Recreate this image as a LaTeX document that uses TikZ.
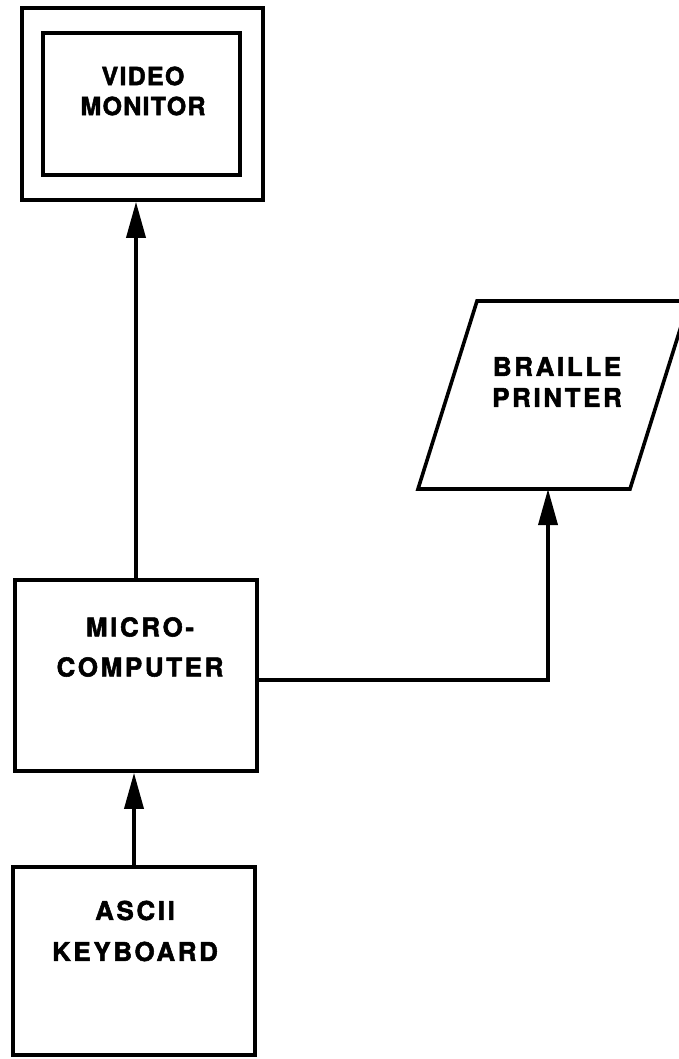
\documentclass[tikz,border=0pt]{standalone}
\usepackage{fontspec}
\usetikzlibrary{arrows.meta}
\newfontfamily\lblfont[LetterSpace=10,BoldFeatures={FakeBold=2}]{TeX Gyre Heros}
\newfontfamily\monfont[LetterSpace=5,BoldFeatures={FakeBold=2}]{TeX Gyre Heros}
\begin{document}
\begin{tikzpicture}[x=1pt,y=-1pt,
  box/.style={draw,line width=3.6pt,inner sep=0pt},
  lbl/.style={font=\lblfont\bfseries\fontsize{26}{30}\selectfont,align=center,inner sep=0pt},
  arr/.style={line width=3.6pt,-{Triangle[length=36pt,width=19pt]}},
  wire/.style={line width=3.6pt}]
\useasboundingbox (0,0) rectangle (678,1059);
% Video monitor
\node[box,minimum width=241pt,minimum height=192pt] (mon) at (142.5,104) {};
\node[box,minimum width=197pt,minimum height=142pt] (scr) at (141.5,104) {};
\node[lbl,font=\monfont\bfseries\fontsize{25}{30}\selectfont] (monl) at (143,91) {VIDEO\\MONITOR};
% Braille printer
\coordinate (p1) at (477,301);
\coordinate (p2) at (689,301);
\coordinate (p3) at (630,489);
\coordinate (p4) at (418,489);
\draw[line width=3.6pt,line join=miter] (p1) -- (p2) -- (p3) -- (p4) -- cycle;
\coordinate (pin) at (548,489);
\node[lbl,font=\lblfont\bfseries\fontsize{26}{31}\selectfont] (prl) at (557,382) {BRAILLE\\PRINTER};
% Microcomputer
\node[box,minimum width=242pt,minimum height=191pt] (mc) at (136,675.5) {};
\node[lbl,font=\lblfont\bfseries\fontsize{26}{40}\selectfont] (mcl) at (140,647) {MICRO-\\COMPUTER};
% Keyboard
\node[box,minimum width=242pt,minimum height=188pt] (kb) at (134,961) {};
\node[lbl,font=\lblfont\bfseries\fontsize{26}{41}\selectfont] (kbl) at (135,931) {ASCII\\KEYBOARD};
% Connectors
\draw[arr] (mc.north) -- (mc.north |- mon.south);
\draw[arr] (kb.north) -- (kb.north |- mc.south);
\coordinate (bend) at (548,680);
\draw[arr] (mc.east |- bend) -- (bend) -- (pin);
\end{tikzpicture}
\end{document}
